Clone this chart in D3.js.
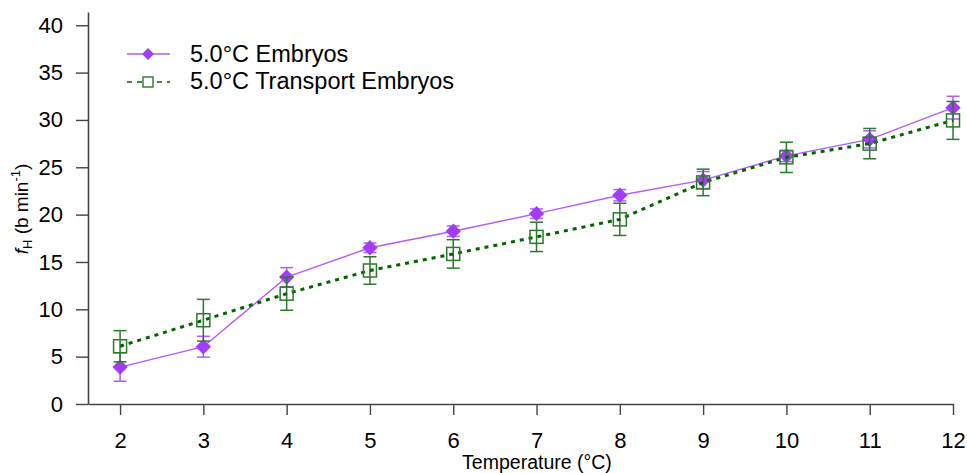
<!DOCTYPE html>
<html>
<head>
<meta charset="utf-8">
<script src="https://cdn.jsdelivr.net/npm/d3@7"></script>
<style>
    body { margin: 0; background: #fff; }
    svg text { font-family: "Liberation Sans", Arial, sans-serif; fill: #000; }
</style>
</head>
<body>
<div id="chart"></div>
<script>
// Data
const temps = [2, 3, 4, 5, 6, 7, 8, 9, 10, 11, 12];
const embryos = [3.9, 6.05, 13.4, 16.5, 18.25, 20.1, 22.05, 23.65, 26.2, 27.95, 31.3];
const embryosErr = [1.5, 1.1, 1.0, 0.5, 0.55, 0.5, 0.6, 0.9, 0.6, 0.9, 1.2];
const transport = [6.1, 8.85, 11.65, 14.1, 15.85, 17.65, 19.5, 23.4, 26.05, 27.5, 29.95];
const transportErr = [1.65, 2.2, 1.75, 1.45, 1.5, 1.55, 1.7, 1.4, 1.6, 1.6, 2.0];
const yTicks = [0, 5, 10, 15, 20, 25, 30, 35, 40];
const legendLabels = ["5.0°C Embryos", "5.0°C Transport Embryos"];

const width = 967, height = 473;
const margin = { left: 88, right: 14, top: 12, bottom: 69 };

const svg = d3.select("#chart").append("svg")
    .attr("width", width)
    .attr("height", height);

const x = d3.scaleLinear()
    .domain([1.615, 12])
    .range([margin.left, width - margin.right]);

const y = d3.scaleLinear()
    .domain([0, 41.4])
    .range([height - margin.bottom, margin.top]);

// Axes
const xAxis = svg.append("g")
    .attr("transform", `translate(0,${y(0)})`)
    .call(d3.axisBottom(x).tickValues(temps).tickSize(11).tickPadding(17).tickSizeOuter(0));

const yAxis = svg.append("g")
    .attr("transform", `translate(${margin.left},0)`)
    .call(d3.axisLeft(y).tickValues(yTicks).tickSize(12).tickPadding(13).tickSizeOuter(0));

[xAxis, yAxis].forEach(a => {
    a.select(".domain").attr("stroke", "#444").attr("stroke-width", 1.6);
    a.selectAll(".tick line").attr("stroke", "#444").attr("stroke-width", 1.4);
    a.selectAll(".tick text")
        .style("font-size", "22px")
        .style("font-family", "Liberation Sans, Arial, sans-serif")
        .attr("fill", "#000");
});

// Axis titles
svg.append("text")
    .attr("x", 537)
    .attr("y", 469)
    .attr("text-anchor", "middle")
    .style("font-size", "19.5px")
    .text("Temperature (°C)");

const yTitle = svg.append("text")
    .attr("transform", "translate(28,209) rotate(-90)")
    .attr("text-anchor", "middle")
    .style("font-size", "19px");
yTitle.append("tspan").style("font-style", "italic").text("f");
yTitle.append("tspan").attr("dy", 4).style("font-size", "13px").text("H");
yTitle.append("tspan").attr("dy", -4).text(" (b min");
yTitle.append("tspan").attr("dy", -8).style("font-size", "13px").text("-1");
yTitle.append("tspan").attr("dy", 8).text(")");

// Series helpers
const purple = "#a23cf5";
const purpleLight = "#b25df7";
const green = "#006400";
const greenMark = "#2a7a2a";

const diamond = d3.symbol().type(d3.symbolDiamond2).size(150);

function drawErrors(values, errs, color, capW) {
    const g = svg.append("g").attr("stroke", color).attr("stroke-width", 1.5);
    g.selectAll("line.v")
        .data(temps)
        .join("line")
        .attr("x1", d => x(d)).attr("x2", d => x(d))
        .attr("y1", (d, i) => y(values[i] - errs[i]))
        .attr("y2", (d, i) => y(values[i] + errs[i]));
    [-1, 1].forEach(s => {
        g.selectAll(null)
            .data(temps)
            .join("line")
            .attr("x1", d => x(d) - capW / 2)
            .attr("x2", d => x(d) + capW / 2)
            .attr("y1", (d, i) => y(values[i] + s * errs[i]))
            .attr("y2", (d, i) => y(values[i] + s * errs[i]));
    });
}

const line = d3.line().x((d, i) => x(temps[i])).y(d => y(d));

// Embryos
drawErrors(embryos, embryosErr, purpleLight, 13);
svg.append("path")
    .datum(embryos)
    .attr("fill", "none")
    .attr("stroke", purpleLight)
    .attr("stroke-width", 1.4)
    .attr("d", line);
svg.append("g").selectAll("path")
    .data(embryos)
    .join("path")
    .attr("transform", (d, i) => `translate(${x(temps[i])},${y(d)})`)
    .attr("d", diamond)
    .attr("fill", purple);

// Transport embryos
drawErrors(transport, transportErr, greenMark, 13);
svg.append("path")
    .datum(transport)
    .attr("fill", "none")
    .attr("stroke", green)
    .attr("stroke-width", 3)
    .attr("stroke-dasharray", "4,5")
    .attr("d", line);
svg.append("g").selectAll("rect")
    .data(transport)
    .join("rect")
    .attr("x", (d, i) => x(temps[i]) - 6.5)
    .attr("y", d => y(d) - 6.5)
    .attr("width", 13)
    .attr("height", 13)
    .attr("fill", "none")
    .attr("stroke", greenMark)
    .attr("stroke-width", 1.5);

// Legend
const legend = svg.append("g");
legend.append("line")
    .attr("x1", 127).attr("x2", 170).attr("y1", 54).attr("y2", 54)
    .attr("stroke", purpleLight).attr("stroke-width", 1.4);
legend.append("path")
    .attr("transform", "translate(148,54)")
    .attr("d", d3.symbol().type(d3.symbolDiamond2).size(90))
    .attr("fill", purple);
legend.append("line")
    .attr("x1", 127).attr("x2", 170).attr("y1", 82).attr("y2", 82)
    .attr("stroke", green).attr("stroke-width", 1.4)
    .attr("stroke-dasharray", "5,5");
legend.append("rect")
    .attr("x", 143).attr("y", 77).attr("width", 10).attr("height", 10)
    .attr("fill", "#fff").attr("stroke", greenMark).attr("stroke-width", 1.4);
legend.selectAll("text")
    .data(legendLabels)
    .join("text")
    .attr("x", 190)
    .attr("y", (d, i) => 62 + i * 27)
    .style("font-size", "23.5px")
    .text(d => d);
</script>
</body>
</html>
